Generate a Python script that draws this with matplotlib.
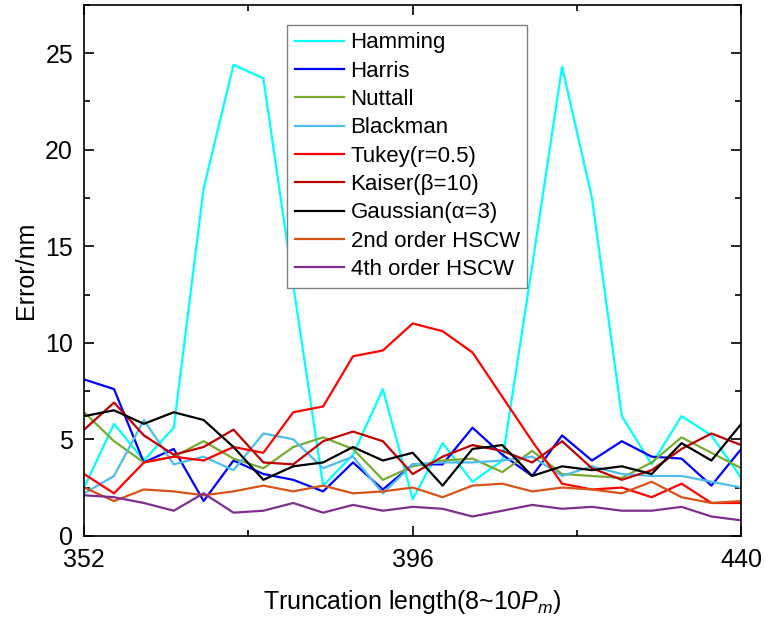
import numpy as np
import matplotlib
matplotlib.use('Agg')
import matplotlib.pyplot as plt
from matplotlib.ticker import MultipleLocator

plt.rcParams['font.family'] = ['Liberation Sans', 'DejaVu Sans']
plt.rcParams['mathtext.fontset'] = 'custom'
plt.rcParams['mathtext.rm'] = 'Liberation Sans'
plt.rcParams['mathtext.it'] = 'Liberation Sans:italic'

# truncation length
x = np.arange(352, 441, 4)

hamming = [2.5, 5.8, 3.9, 5.6, 18.0, 24.4, 23.7, 13.0, 2.6, 4.2, 7.6, 1.9,
           4.8, 2.8, 3.9, 14.0, 24.3, 17.5, 6.2, 3.7, 6.2, 5.2, 3.0]
harris = [8.1, 7.6, 3.8, 4.5, 1.8, 3.9, 3.2, 2.9, 2.3, 3.8, 2.4, 3.7,
          3.7, 5.6, 4.2, 3.1, 5.2, 3.9, 4.9, 4.1, 4.0, 2.6, 4.5]
nuttall = [6.4, 4.9, 3.8, 4.1, 4.9, 4.0, 3.5, 4.6, 5.1, 4.5, 2.9, 3.6,
           3.9, 4.0, 3.3, 4.4, 3.2, 3.1, 3.0, 3.8, 5.1, 4.3, 3.5]
blackman = [2.2, 3.1, 6.0, 3.7, 4.1, 3.4, 5.3, 5.0, 3.5, 4.1, 2.2, 3.7,
            3.8, 3.8, 3.9, 4.1, 3.1, 3.6, 3.2, 3.1, 3.1, 2.8, 2.5]
tukey = [3.2, 2.2, 3.8, 4.1, 3.9, 4.6, 4.3, 6.4, 6.7, 9.3, 9.6, 11.0,
         10.6, 9.5, 7.2, 4.9, 2.7, 2.4, 2.5, 2.0, 2.7, 1.7, 1.7]
kaiser = [5.5, 6.9, 5.2, 4.2, 4.6, 5.5, 3.8, 3.7, 4.9, 5.4, 4.9, 3.2,
          4.1, 4.7, 4.4, 3.8, 4.9, 3.5, 2.9, 3.4, 4.5, 5.3, 4.7]
gaussian = [6.2, 6.5, 5.8, 6.4, 6.0, 4.6, 2.9, 3.6, 3.8, 4.6, 3.9, 4.3,
            2.6, 4.5, 4.7, 3.1, 3.6, 3.4, 3.6, 3.2, 4.8, 3.9, 5.8]
hscw2 = [2.5, 1.8, 2.4, 2.3, 2.1, 2.3, 2.6, 2.3, 2.6, 2.2, 2.3, 2.5,
         2.0, 2.6, 2.7, 2.3, 2.5, 2.4, 2.2, 2.8, 2.0, 1.7, 1.8]
hscw4 = [2.1, 2.0, 1.7, 1.3, 2.2, 1.2, 1.3, 1.7, 1.2, 1.6, 1.3, 1.5,
         1.4, 1.0, 1.3, 1.6, 1.4, 1.5, 1.3, 1.3, 1.5, 1.0, 0.8]

series = [
    ('Hamming', hamming, '#00FFFF'),
    ('Harris', harris, '#0000FF'),
    ('Nuttall', nuttall, '#77AC30'),
    ('Blackman', blackman, '#4DBEEE'),
    ('Tukey(r=0.5)', tukey, '#FF0000'),
    ('Kaiser(\u03b2=10)', kaiser, '#C00000'),
    ('Gaussian(\u03b1=3)', gaussian, '#000000'),
    ('2nd order HSCW', hscw2, '#D95319'),
    ('4th order HSCW', hscw4, '#7E2F8E'),
]

fig = plt.figure(figsize=(7.65, 6.18), dpi=100)
ax = fig.add_axes([0.110, 0.133, 0.859, 0.859])

for name, vals, col in series:
    ax.plot(x, vals, color=col, lw=1.6, label=name)

ax.set_xlim(352, 440)
ax.set_ylim(0, 27.5)
ax.set_xticks([352, 396, 440])
ax.xaxis.set_minor_locator(MultipleLocator(22))
ax.yaxis.set_major_locator(MultipleLocator(5))
ax.yaxis.set_minor_locator(MultipleLocator(2.5))
ax.tick_params(which='both', direction='in', top=True, right=True, width=1.2, labelsize=18)
ax.tick_params(which='major', length=7)
ax.tick_params(which='minor', length=4)
ax.tick_params(axis='x', pad=9)
ax.tick_params(axis='y', pad=8)
for sp in ax.spines.values():
    sp.set_linewidth(1.2)

ax.set_xlabel(r'Truncation length(8~10$P_m$)', fontsize=18, labelpad=11)
ax.set_ylabel('Error/nm', fontsize=18, labelpad=5)

leg = ax.legend(loc='upper left', bbox_to_anchor=(0.309, 0.963), borderaxespad=0,
                fontsize=16, fancybox=False, framealpha=1, edgecolor='#808080',
                handlelength=2.2, handletextpad=0.3, labelspacing=0.33,
                borderpad=0.35)
leg.get_frame().set_linewidth(1.0)

fig.savefig('out.png', dpi=100)
